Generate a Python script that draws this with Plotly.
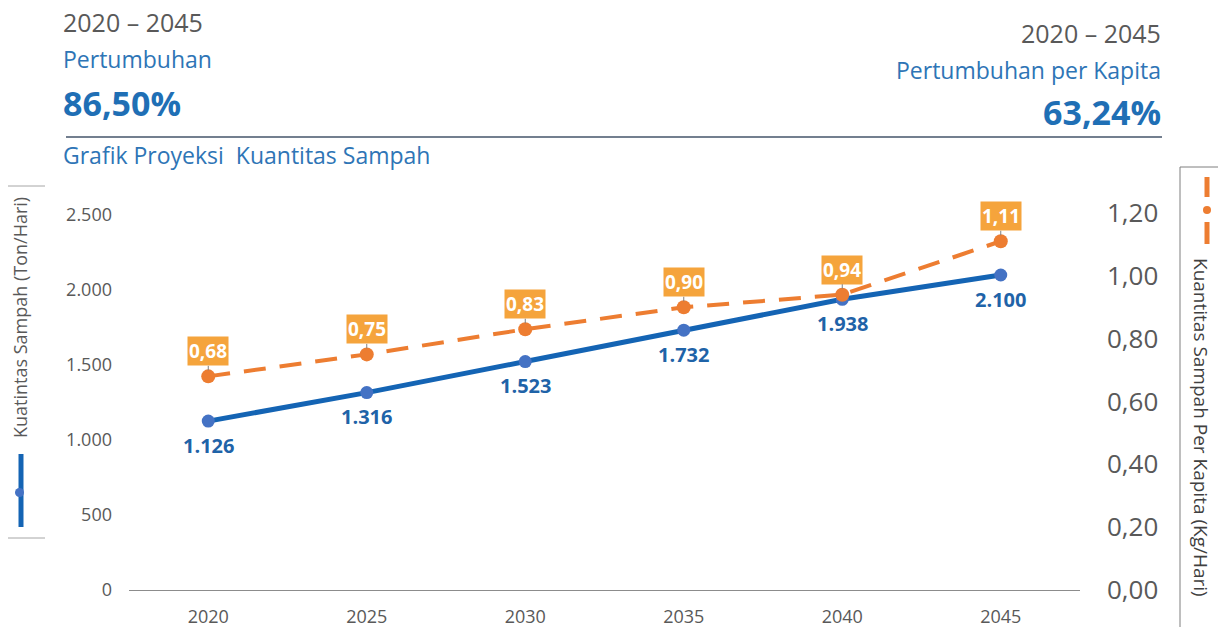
import plotly.graph_objects as go

# Projection data
years = ["2020", "2025", "2030", "2035", "2040", "2045"]
total_ton = [1126, 1316, 1523, 1732, 1938, 2100]          # Ton/Hari
per_capita = [0.68, 0.75, 0.83, 0.90, 0.94, 1.11]          # Kg/Hari

growth_total = "86,50%"
growth_capita = "63,24%"

W, H = 1218, 627
L, R, T, B = 129, 1080, 213, 590   # plot area in pixels

FONT = "Open Sans"
BLUE_LINE = "#1464b4"
BLUE_MARK = "#4472c4"
BLUE_TEXT = "#1f63a8"
ORANGE = "#ed7d31"
ORANGE_BOX = "#f5a43c"
GRAY = "#595959"


def px(x):
    return (x - L) / (R - L)


def py(y):
    return (B - y) / (B - T)


fig = go.Figure()

fig.add_trace(go.Scatter(
    x=years, y=total_ton, mode="lines+markers",
    line=dict(color=BLUE_LINE, width=5),
    marker=dict(color=BLUE_MARK, size=13),
    yaxis="y", showlegend=False, cliponaxis=False,
))

fig.add_trace(go.Scatter(
    x=years, y=per_capita, mode="lines+markers",
    line=dict(color=ORANGE, width=4, dash="22px,14px"),
    marker=dict(color=ORANGE, size=14),
    yaxis="y2", showlegend=False, cliponaxis=False,
))

annotations = []
# Value labels under the total series
for i, v in enumerate(total_ton):
    annotations.append(dict(
        x=i, y=v, xref="x", yref="y",
        text="<b>" + f"{v:,}".replace(",", ".") + "</b>",
        showarrow=False, yshift=-24, yanchor="middle",
        font=dict(family=FONT, size=20, color=BLUE_TEXT),
    ))

# Boxed value labels above the per-capita series
for i, v in enumerate(per_capita):
    annotations.append(dict(
        x=i, y=v, xref="x", yref="y2",
        text=f"<b>{v:.2f}</b>".replace(".", ","),
        showarrow=True, arrowhead=0, arrowwidth=1, arrowcolor="#7f7f7f",
        ax=0, ay=-25, standoff=6,
        bgcolor=ORANGE_BOX, borderpad=1,
        font=dict(family=FONT, size=19, color="white"),
    ))

# Header block
hdr = [
    (61, 22, "2020 – 2045", "left", 25, "#595959", False),
    (61, 59, "Pertumbuhan", "left", 23, "#2e75b6", False),
    (61, 103, growth_total, "left", 34, "#1f6fb5", True),
    (1163, 33, "2020 – 2045", "right", 25, "#595959", False),
    (1163, 70, "Pertumbuhan per Kapita", "right", 23, "#2e75b6", False),
    (1163, 112, growth_capita, "right", 34, "#1f6fb5", True),
    (61, 155, "Grafik Proyeksi  Kuantitas Sampah", "left", 23, "#2e75b6", False),
]
for x, y, t, anc, size, col, bold in hdr:
    annotations.append(dict(
        x=px(x), y=py(y), xref="paper", yref="paper",
        text=f"<b>{t}</b>" if bold else t, showarrow=False,
        xanchor=anc, yanchor="middle",
        font=dict(family=FONT, size=size, color=col),
    ))

# Axis titles
annotations.append(dict(
    x=px(20), y=py(318), xref="paper", yref="paper",
    xanchor="center", yanchor="middle",
    text="Kuatintas Sampah (Ton/Hari)", textangle=-90, showarrow=False,
    font=dict(family=FONT, size=18, color=GRAY),
))
annotations.append(dict(
    x=px(1201), y=py(427), xref="paper", yref="paper",
    xanchor="center", yanchor="middle",
    text="Kuantitas Sampah Per Kapita (Kg/Hari)", textangle=90, showarrow=False,
    font=dict(family=FONT, size=19, color="#404040"),
))

shapes = [
    # header rule
    dict(type="line", xref="paper", yref="paper", x0=px(66), x1=px(1162),
         y0=py(137), y1=py(137), line=dict(color="#44546a", width=1.3)),
    # left title box rules
    dict(type="line", xref="paper", yref="paper", x0=px(8), x1=px(45),
         y0=py(186), y1=py(186), line=dict(color="#a6a6a6", width=1)),
    dict(type="line", xref="paper", yref="paper", x0=px(8), x1=px(45),
         y0=py(538), y1=py(538), line=dict(color="#a6a6a6", width=1)),
    # left series key
    dict(type="line", xref="paper", yref="paper", x0=px(21), x1=px(21),
         y0=py(454), y1=py(527), line=dict(color=BLUE_LINE, width=5)),
    dict(type="circle", xref="paper", yref="paper", x0=px(15), x1=px(24),
         y0=py(488), y1=py(497), fillcolor=BLUE_MARK, line=dict(width=0)),
    # right title box rules
    dict(type="line", xref="paper", yref="paper", x0=px(1180), x1=px(1218),
         y0=py(167), y1=py(167), line=dict(color="#7f7f7f", width=1)),
    dict(type="line", xref="paper", yref="paper", x0=px(1180), x1=px(1180),
         y0=py(167), y1=py(627), line=dict(color="#7f7f7f", width=1)),
    # right series key
    dict(type="line", xref="paper", yref="paper", x0=px(1207), x1=px(1207),
         y0=py(177), y1=py(197), line=dict(color=ORANGE, width=5)),
    dict(type="circle", xref="paper", yref="paper", x0=px(1203), x1=px(1211),
         y0=py(206), y1=py(214), fillcolor=ORANGE, line=dict(width=0)),
    dict(type="line", xref="paper", yref="paper", x0=px(1207), x1=px(1207),
         y0=py(222), y1=py(244), line=dict(color=ORANGE, width=5)),
]

fig.update_layout(
    width=W, height=H,
    margin=dict(l=L, r=W - R, t=T, b=H - B, autoexpand=False),
    paper_bgcolor="white", plot_bgcolor="white",
    separators=",.",
    font=dict(family=FONT, color=GRAY),
    xaxis=dict(
        type="category", range=[-0.5, 5.5], automargin=False,
        showgrid=False, showline=True, linecolor="#8c8c8c", linewidth=1,
        ticks="", ticklabelstandoff=10,
        tickfont=dict(family=FONT, size=18, color=GRAY),
    ),
    yaxis=dict(
        range=[0, 2500 * (B - T) / 375], tickvals=[0, 500, 1000, 1500, 2000, 2500],
        tickformat=",d", showgrid=False, zeroline=False, showline=False,
        ticks="", ticklabelstandoff=16, automargin=False,
        tickfont=dict(family=FONT, size=18, color=GRAY),
    ),
    yaxis2=dict(
        overlaying="y", side="right", range=[0, 1.2],
        tickvals=[0, 0.2, 0.4, 0.6, 0.8, 1.0, 1.2], tickformat=".2f",
        showgrid=False, zeroline=False, showline=False,
        ticks="", ticklabelstandoff=26, automargin=False,
        tickfont=dict(family=FONT, size=26, color=GRAY),
    ),
    annotations=annotations,
    shapes=shapes,
)

fig.write_html("out.html")
